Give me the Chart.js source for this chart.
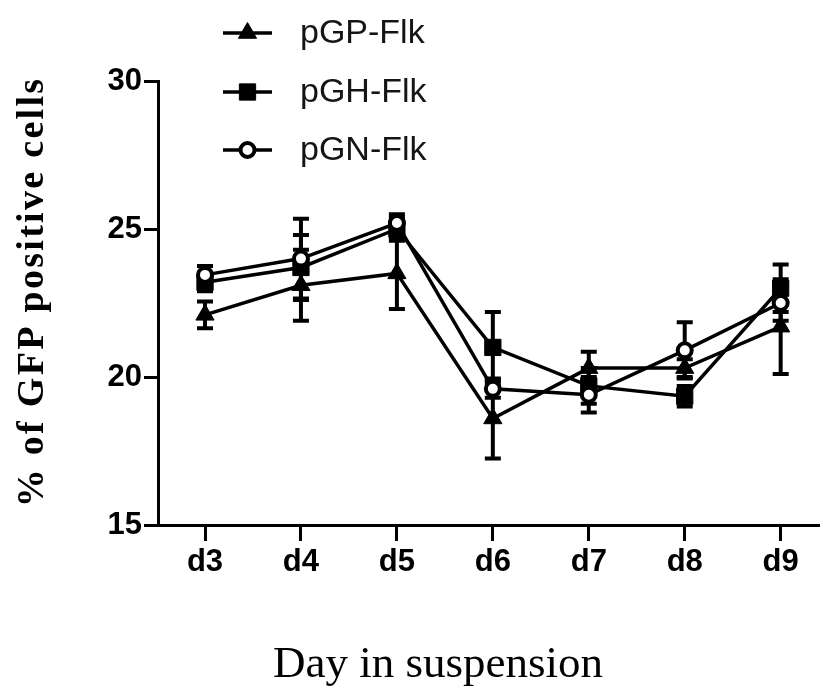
<!DOCTYPE html>
<html>
<head>
<meta charset="utf-8">
<script src="https://cdn.jsdelivr.net/npm/chart.js@4.4.1/dist/chart.umd.min.js"></script>
<style>
  html, body { margin: 0; padding: 0; background: #fff; }
  #wrap { width: 820px; height: 687px; position: relative; }
  canvas { display: block; }
</style>
</head>
<body>
<div id="wrap"><canvas id="c" width="820" height="687"></canvas></div>
<script>
// Day of suspension culture (numeric position) and its axis label
const dayNumbers = [3, 4, 5, 6, 7, 8, 9];
const dayLabels = ['d3', 'd4', 'd5', 'd6', 'd7', 'd8', 'd9'];
const yTicks = [15, 20, 25, 30];
const seriesNames = ['pGP-Flk', 'pGH-Flk', 'pGN-Flk'];

// % of GFP positive cells (mean) and error (SEM)
const pGP = [22.1, 23.1, 23.5, 18.6, 20.3, 20.3, 21.7];
const pGPErr = [0.45, 1.2, 1.2, 1.35, 0.55, 0.3, 1.6];
const pGH = [23.2, 23.7, 25.0, 21.0, 19.7, 19.35, 23.0];
const pGHErr = [0.3, 1.1, 0.4, 1.2, 0.6, 0.35, 0.8];
const pGN = [23.45, 24.0, 25.2, 19.6, 19.4, 20.9, 22.5];
const pGNErr = [0.3, 1.35, 0.3, 0.3, 0.6, 0.95, 0.6];

const toPoints = vals => dayNumbers.map((d, i) => ({ x: d, y: vals[i] }));

// Vertical error bars with caps, drawn underneath the markers
const errorBars = {
  id: 'errorBars',
  beforeDatasetsDraw(chart) {
    const { ctx } = chart;
    const xs = chart.scales.x, ys = chart.scales.y;
    const cap = 8;
    ctx.save();
    ctx.strokeStyle = '#000';
    ctx.lineWidth = 4;
    chart.data.datasets.forEach(ds => {
      ds.data.forEach((p, j) => {
        const e = ds.errors[j];
        const x = xs.getPixelForValue(p.x);
        const yTop = ys.getPixelForValue(p.y + e);
        const yBot = ys.getPixelForValue(p.y - e);
        ctx.beginPath();
        ctx.moveTo(x, yTop);
        ctx.lineTo(x, yBot);
        ctx.moveTo(x - cap, yTop);
        ctx.lineTo(x + cap, yTop);
        ctx.moveTo(x - cap, yBot);
        ctx.lineTo(x + cap, yBot);
        ctx.stroke();
      });
    });
    ctx.restore();
  }
};

// Stacked legend (line + marker + name) and the two axis titles
const annotations = {
  id: 'annotations',
  afterDraw(chart) {
    const { ctx } = chart;
    ctx.save();
    const lineX0 = 223, lineX1 = 272, textX = 300;
    const rowY = [33, 92, 150];
    chart.data.datasets.forEach((ds, i) => {
      const y = rowY[i];
      ctx.strokeStyle = '#000';
      ctx.lineWidth = 3.5;
      ctx.beginPath();
      ctx.moveTo(lineX0, y);
      ctx.lineTo(lineX1, y);
      ctx.stroke();
      ctx.fillStyle = ds.pointBackgroundColor;
      ctx.strokeStyle = '#000';
      ctx.lineWidth = ds.pointBorderWidth;
      Chart.helpers.drawPoint(ctx, {
        pointStyle: ds.pointStyle,
        radius: ds.pointRadius,
        borderWidth: ds.pointBorderWidth,
        rotation: 0
      }, (lineX0 + lineX1) / 2, y);
      ctx.fillStyle = '#151515';
      ctx.font = '34px "Liberation Sans", Arial, sans-serif';
      ctx.textAlign = 'left';
      ctx.textBaseline = 'middle';
      ctx.fillText(ds.label, textX, y + 1);
    });

    // x axis title
    ctx.fillStyle = '#000';
    ctx.font = '45px "Liberation Serif", "Times New Roman", serif';
    ctx.textAlign = 'left';
    ctx.textBaseline = 'alphabetic';
    ctx.fillText('Day in suspension', 273, 677);

    // y axis title
    ctx.translate(33, 292);
    ctx.rotate(-Math.PI / 2);
    ctx.font = 'bold 38px "Liberation Serif", "Times New Roman", serif';
    ctx.letterSpacing = '2.3px';
    ctx.textAlign = 'center';
    ctx.textBaseline = 'middle';
    ctx.fillText('% of GFP positive cells', 0, 0);
    ctx.restore();
  }
};

const tickFont = { family: '"Liberation Sans", Arial, sans-serif', size: 31, weight: 'bold' };

new Chart(document.getElementById('c'), {
  type: 'line',
  data: {
    datasets: [
      {
        label: seriesNames[0], data: toPoints(pGP), errors: pGPErr,
        borderColor: '#000', borderWidth: 3.5,
        pointStyle: 'triangle', pointRadius: 10.5, pointBorderWidth: 1,
        pointBackgroundColor: '#000', pointBorderColor: '#000', order: 3
      },
      {
        label: seriesNames[1], data: toPoints(pGH), errors: pGHErr,
        borderColor: '#000', borderWidth: 3.5,
        pointStyle: 'rect', pointRadius: 11.5, pointBorderWidth: 1,
        pointBackgroundColor: '#000', pointBorderColor: '#000', order: 2
      },
      {
        label: seriesNames[2], data: toPoints(pGN), errors: pGNErr,
        borderColor: '#000', borderWidth: 3.5,
        pointStyle: 'circle', pointRadius: 7, pointBorderWidth: 4,
        pointBackgroundColor: '#fff', pointBorderColor: '#000', order: 1
      }
    ]
  },
  options: {
    responsive: false,
    animation: false,
    devicePixelRatio: 1,
    layout: { autoPadding: false, padding: { top: 81, left: 0, right: 0, bottom: 0 } },
    plugins: { legend: { display: false }, tooltip: { enabled: false } },
    elements: { line: { tension: 0 } },
    scales: {
      x: {
        type: 'linear',
        min: 2.51,
        max: 9.41,
        afterBuildTicks: s => { s.ticks = dayNumbers.map(v => ({ value: v })); },
        afterFit: s => { s.height = 162; s.paddingLeft = 0; s.paddingRight = 0; },
        border: { display: true, color: '#000', width: 3 },
        grid: {
          display: true, drawOnChartArea: false, drawTicks: true,
          tickLength: 16, tickWidth: 3, tickColor: '#000', color: '#000', lineWidth: 3
        },
        ticks: {
          color: '#000', font: tickFont, padding: 3, maxRotation: 0, autoSkip: false,
          callback: v => { const k = dayNumbers.indexOf(v); return k >= 0 ? dayLabels[k] : ''; }
        }
      },
      y: {
        min: 15,
        max: 30,
        afterBuildTicks: s => { s.ticks = yTicks.map(v => ({ value: v })); },
        afterFit: s => { s.width = 158; },
        border: { display: true, color: '#000', width: 3 },
        grid: {
          display: true, drawOnChartArea: false, drawTicks: true,
          tickLength: 14, tickWidth: 3, tickColor: '#000', color: '#000', lineWidth: 3
        },
        ticks: { color: '#000', font: tickFont, padding: 2 }
      }
    }
  },
  plugins: [errorBars, annotations]
});
</script>
</body>
</html>
